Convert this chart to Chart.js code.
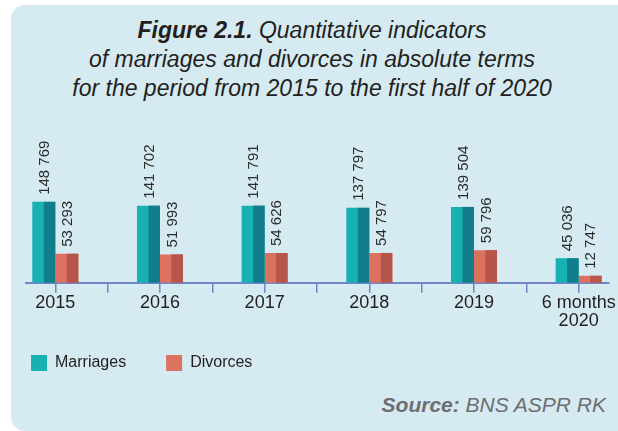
<!DOCTYPE html>
<html>
<head>
<meta charset="utf-8">
<script src="https://cdn.jsdelivr.net/npm/chart.js@4"></script>
<style>
  body {
    margin: 0;
    width: 618px;
    height: 431px;
    background: #ffffff;
    position: relative;
    overflow: hidden;
    font-family: "Liberation Sans", Arial, sans-serif;
  }
  .card {
    position: absolute;
    left: 11px;
    top: 5px;
    width: 620px;
    height: 426px;
    background: #d5eaf1;
    border-radius: 14px;
  }
  .title {
    position: absolute;
    left: 11px;
    width: 602px;
    top: 16px;
    text-align: center;
    font-style: italic;
    font-size: 23px;
    line-height: 29px;
    color: #231f20;
  }
  .source {
    position: absolute;
    right: 12px;
    top: 393px;
    font-style: italic;
    font-size: 21px;
    line-height: 24px;
    color: #6d6e71;
  }
  canvas {
    position: absolute;
    left: 0;
    top: 0;
  }
</style>
</head>
<body>
<div class="card"></div>
<div class="title"><b>Figure 2.1.</b> Quantitative indicators<br>of marriages and divorces in absolute terms<br>for the period from 2015 to the first half of 2020</div>
<div class="source"><b>Source:</b> BNS ASPR RK</div>
<canvas id="myChart" width="618" height="431"></canvas>
<script>
const categories = ["2015", "2016", "2017", "2018", "2019", ["6 months", "2020"]];
const marriages = [148769, 141702, 141791, 137797, 139504, 45036];
const divorces = [53293, 51993, 54626, 54797, 59796, 12747];

const lightColors = ["#17b0b3", "#dc715f"];
const darkColors = ["#137e8b", "#b6554a"];
const axisColor = "#6f86c8";
const textColor = "#231f20";
const fontFamily = "'Liberation Sans', Arial, sans-serif";

function formatValue(v) {
  return v.toString().replace(/\B(?=(\d{3})+(?!\d))/g, " ");
}

// right half of each bar in a darker tone (the 3D look)
const barShade = {
  id: "barShade",
  afterDatasetsDraw(chart) {
    const ctx = chart.ctx;
    chart.data.datasets.forEach((ds, i) => {
      chart.getDatasetMeta(i).data.forEach((bar) => {
        const { x, y, base, width } = bar.getProps(["x", "y", "base", "width"], true);
        ctx.fillStyle = darkColors[i];
        ctx.fillRect(x, y, width / 2, base - y);
      });
    });
  },
};

// vertical value labels above the bars
const valueLabels = {
  id: "valueLabels",
  afterDatasetsDraw(chart) {
    const ctx = chart.ctx;
    ctx.save();
    ctx.fillStyle = "#2b2b2b";
    ctx.font = "15px " + fontFamily;
    ctx.textAlign = "left";
    ctx.textBaseline = "middle";
    chart.data.datasets.forEach((ds, i) => {
      chart.getDatasetMeta(i).data.forEach((bar, j) => {
        ctx.save();
        ctx.translate(bar.x + 1, bar.y - 7);
        ctx.rotate(-Math.PI / 2);
        ctx.fillText(formatValue(ds.data[j].y), 0, 0);
        ctx.restore();
      });
    });
    ctx.restore();
  },
};

// the x axis box is kept short for the legend, give its labels room to draw
const labelRoom = {
  id: "labelRoom",
  afterLayout(chart) {
    const x = chart.scales.x;
    x.bottom = x.top + 60;
  },
};

const ctx = document.getElementById("myChart").getContext("2d");

new Chart(ctx, {
  type: "bar",
  data: {
    datasets: [
      {
        label: "Marriages",
        data: marriages.map((v, i) => ({ x: i, y: v })),
        backgroundColor: lightColors[0],
      },
      {
        label: "Divorces",
        data: divorces.map((v, i) => ({ x: i, y: v })),
        backgroundColor: lightColors[1],
      },
    ],
  },
  plugins: [barShade, valueLabels, labelRoom],
  options: {
    responsive: false,
    animation: false,
    barThickness: 23,
    inflateAmount: 0,
    layout: {
      padding: { top: 174, left: -9, right: 9, bottom: 50 },
    },
    scales: {
      x: {
        type: "linear",
        offset: false,
        min: -0.28,
        max: 5.29,
        grid: {
          offset: false,
          drawOnChartArea: false,
          tickLength: 10,
          color: axisColor,
          lineWidth: 1.5,
        },
        border: { display: true, color: axisColor, width: 2 },
        ticks: {
          stepSize: 0.5,
          includeBounds: false,
          autoSkip: false,
          maxRotation: 0,
          padding: 1,
          color: textColor,
          font: { family: fontFamily, size: 18, lineHeight: 1.02 },
          callback: (v) => (Number.isInteger(v) ? categories[v] : ""),
        },
        afterFit: (scale) => {
          scale.height = 32.3;
          scale.paddingLeft = 0;
          scale.paddingRight = 0;
        },
      },
      y: {
        display: true,
        min: 0,
        max: 200000,
        grid: { display: false },
        border: { display: false },
        ticks: { display: false },
        afterFit: (scale) => {
          scale.width = 35;
        },
      },
    },
    plugins: {
      legend: {
        position: "bottom",
        align: "start",
        labels: {
          boxWidth: 16,
          boxHeight: 16,
          padding: 40,
          color: textColor,
          font: { family: fontFamily, size: 16 },
        },
      },
      tooltip: { enabled: false },
    },
  },
});
</script>
</body>
</html>
